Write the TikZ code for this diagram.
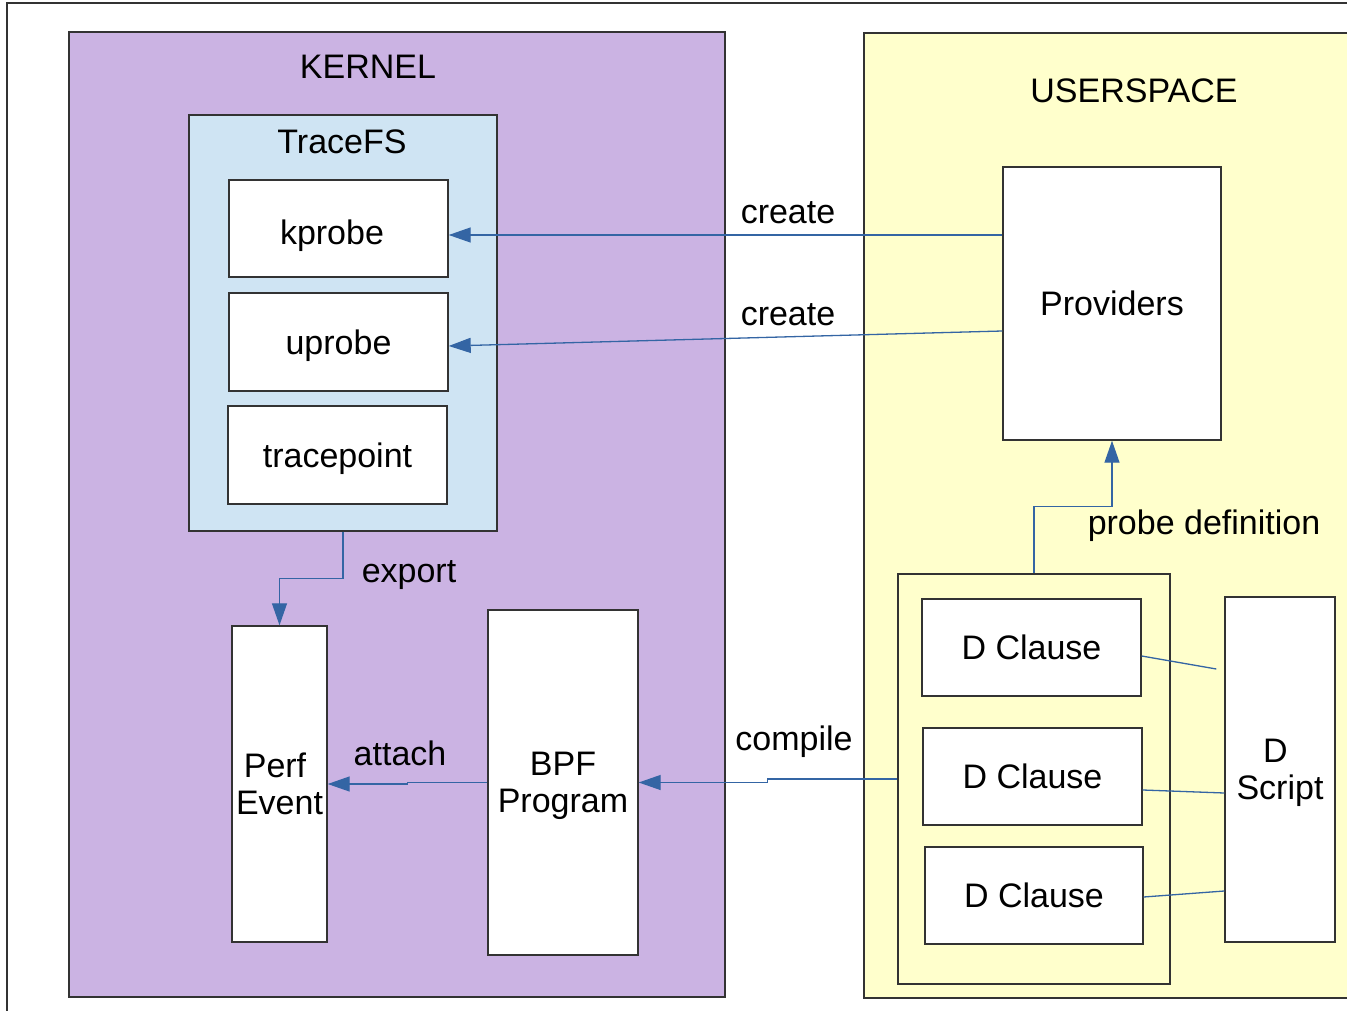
\documentclass[tikz,border=0pt]{standalone}
\usepackage{fontspec}
\setmainfont{Liberation Sans}
\usetikzlibrary{arrows.meta}
\definecolor{kernelfill}{RGB}{203,179,227}
\definecolor{tracefill}{RGB}{207,228,243}
\definecolor{userfill}{RGB}{255,255,204}
\definecolor{linkblue}{RGB}{52,101,164}
\definecolor{edgegray}{RGB}{51,51,51}
\begin{document}
\begin{tikzpicture}[x=1pt,y=-1pt,
  txt/.style={font=\fontsize{34}{37}\selectfont, inner sep=0pt},
  box/.style={draw=edgegray, line width=1.4pt, fill=white, inner sep=0pt, txt, align=center, text depth=0pt},
  area/.style={draw=edgegray, line width=1.4pt, inner sep=0pt},
  conn/.style={draw=linkblue, line width=1.3pt, -{Triangle[length=22pt,width=15pt]}},
  tie/.style={draw=linkblue, line width=1.3pt},
  lbl/.style={txt, anchor=base}]
\useasboundingbox (0,0) rectangle (1347,1011);
\clip (0,0) rectangle (1347,1011);

% page frame
\draw[edgegray, line width=1.2pt] (7,1011) -- (7,3) -- (1347,3);

% containers
\node[area, fill=kernelfill, minimum width=656pt, minimum height=965pt] (kernel) at (397,514.5) {};
\node[area, fill=userfill, minimum width=516pt, minimum height=965pt] (user) at (1122,515.5) {};
\node[area, fill=tracefill, minimum width=308pt, minimum height=416pt] (tracefs) at (343,323) {};
\node[area, minimum width=272pt, minimum height=410pt] (group) at (1034,779) {};

\node[lbl] (lkernel) at (368,79) {KERNEL};
\node[lbl] (luser) at (1134,103) {USERSPACE};
\node[lbl] (ltrace) at (342,154) {TraceFS};

% kernel side
\node[box, text height=33pt, minimum width=219pt, minimum height=97pt] (kprobe) at (338.5,228.5) {kprobe\hspace*{13pt}};
\node[box, minimum width=219pt, minimum height=98pt] (uprobe) at (338.5,342) {uprobe};
\node[box, minimum width=219pt, minimum height=98pt] (tracepoint) at (337.5,455) {tracepoint};
\node[box, minimum width=95pt, minimum height=316pt] (perf) at (279.5,784) {Perf\hspace*{9pt}\\Event};
\node[box, minimum width=150pt, minimum height=345pt] (bpf) at (563,782.5) {BPF\\Program};

% userspace side
\node[box, minimum width=218pt, minimum height=273pt] (prov) at (1112,303.5) {Providers};
\node[box, minimum width=219pt, minimum height=97pt] (c1) at (1031.5,647.5) {D Clause};
\node[box, minimum width=219pt, minimum height=97pt] (c2) at (1032.5,776.5) {D Clause};
\node[box, minimum width=218pt, minimum height=97pt] (c3) at (1034,895.5) {D Clause};
\node[box, minimum width=110pt, minimum height=345pt] (ds) at (1280,769.5) {D\hspace*{9pt}\\Script};

% connectors
\draw[conn] ([yshift=68.5pt]prov.west) -- ([yshift=-6.5pt]kprobe.east);
\draw[conn] ([yshift=-27.5pt]prov.west) -- ([yshift=-4pt]uprobe.east);
\draw[conn] (tracefs.south) -- ++(0,47) -| (perf.north);
\draw[conn] (bpf.west) -- ++(-80,0) |- (perf.east);
\draw[conn] (group.west) -- ++(-130,0) |- (bpf.east);
\draw[conn] (group.north) -- ++(0,-67) -| (prov.south);

\coordinate (dsend) at ([xshift=-8pt,yshift=100.5pt]ds.west);
\draw[tie] ([yshift=-8.5pt]c1.east) -- (dsend);
\draw[tie] ([yshift=-13.5pt]c2.east) -- ([yshift=-23.5pt]ds.west);
\draw[tie] ([yshift=-1.5pt]c3.east) -- ([yshift=-121.5pt]ds.west);

% connector labels
\node[lbl] (lcreate1) at (788,224) {create};
\node[lbl] (lcreate2) at (788,325) {create};
\node[lbl] (lexport) at (409,582) {export};
\node[lbl] (lattach) at (400,765) {attach};
\node[lbl] (lcompile) at (794,750) {compile};
\node[lbl] (lprobe) at (1204,534) {probe definition};
\end{tikzpicture}
\end{document}
